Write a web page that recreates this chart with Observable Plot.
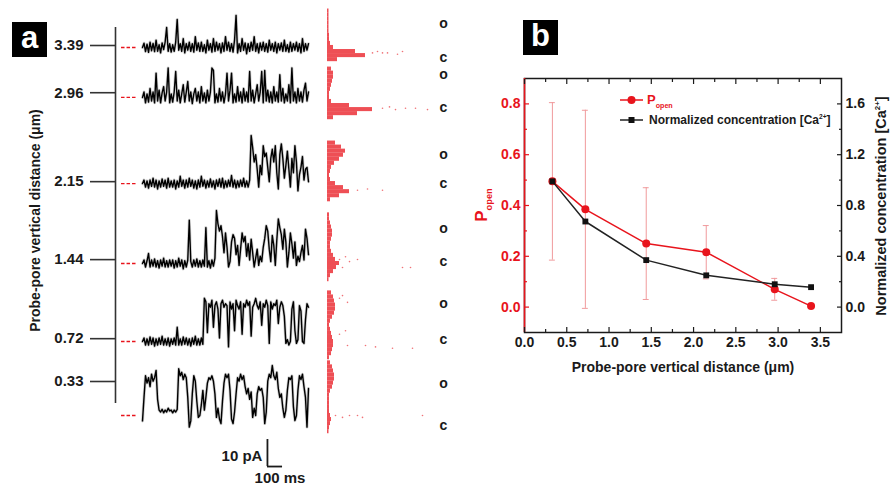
<!DOCTYPE html>
<html>
<head>
<meta charset="utf-8">
<script src="https://cdn.jsdelivr.net/npm/d3@7"></script>
<script src="https://cdn.jsdelivr.net/npm/@observablehq/plot@0.6"></script>
<style>
  html, body { margin: 0; padding: 0; background: #fff; }
  #fig { position: relative; width: 890px; height: 490px; overflow: hidden; background: #fff;
         font-family: "Liberation Sans", Arial, Helvetica, sans-serif; font-weight: bold; color: #1a1a1a; }
  .panel-tag { position: absolute; width: 35px; height: 35px; background: #000; color: #fff;
               font-size: 31px; line-height: 31px; text-align: center; }
  .rot { position: absolute; white-space: nowrap; transform: translate(-50%, -50%) rotate(-90deg); }
  .leg { position: absolute; white-space: nowrap; line-height: 1; }
  sub, sup { font-size: 55%; }
</style>
</head>
<body>
<div id="fig"></div>
<script>
// ================= DATA : panel a =================
const distanceTicksA = [3.39, 2.96, 2.15, 1.44, 0.72, 0.33];
const axisTitleA = "Probe-pore vertical distance (μm)";
const sampleMs = 10; // one value every 10 ms
// single-channel current traces (pA, relative to closed level)
const trace339 = [0,1.6,-1.5,1.2,-1.8,2,-1.2,1.5,-1.5,2.7, -1.4,1,-2,1.7,-0.8,2,7.4,-1.4,1.4,-1.7, 1,-1.4,2,10.4,-1,1.4,-1.4,3.3,-2,1.4, -1,2,-1.4,1.4,-1.7,4,-1,1.7,-1.4,2, -1.4,1,-2,2.7,-1,1.4,-1.7,3.3,-1.4,2, -1,1.4,-2,1.7,-1.4,4,-1,2,-1.4,1.4, -1.7,2.7,11.9,-2,1.4,-1.4,3.3,-1,1.7,-2.3, 1.4,-1.4,2,-1,4,-1.4,1.4,-2,1.7,-1, 2,-1.4,1.4,-1.7,2.7,-1,1.4,-1.4,2,-2, 1.4,-1,1.7,-1.4,2.7,-1.4,1,-1.7,2,-1.4, 1.4,-1,2,-1.4,1.4,-2,3.3,-1.4,1.4,-1,1.4];
const trace296 = [0,2,-2,1.3,-1.7,3.3,-1.3,2,-2,9, -1.3,2.7,-2,1.7,4,-1.3,2,10.9,-2,1.3, -1.7,2,9.6,-1.3,2.7,-2,1.3,4.7,-1.7,2, 5.9,-1.3,2,-2.3,1.3,3.3,-1.3,2,-2,4, -1.3,1.7,-2,2.7,-1.3,2,10.9,10,-2,1.3, -1.7,3.3,-1.3,2,-2,1.3,9,-1.3,2.7,9, -2,1.3,-1.7,4,-1.3,2,-2,3.3,-1.3,2, -1.7,9.6,-1.3,2.7,-2,1.3,4.7,-1.3,2,9.6, -2,10,-1.3,2.7,-1.7,2,-2,4,-1.3,2, -1.7,8.4,-1.3,3.3,-2,1.3,-1.3,4.7,-2,10.9, -1.3,2,-2,3.3,-1.3,2,-1.7,2.7,5.3,-1.3,2];
const trace215 = [0,1.3,-1.3,1,-1.7,1.3,-1,2,-1.3,1.3, -2,1,-1.3,1.7,-1,1.3,-1.7,2,-1.3,1, -1.3,1.3,-2,1,-1.3,2.7,-1,1.3,-1.7,1.3, -1.3,2,-1,1.3,-1.7,1,-2,1.3,-1.3,2.7, -1,1.3,-1.7,1,-1.3,1.7,-1.3,1,-2,1.3, -1,1.7,-1.3,2,-1.7,1,-1.3,1.3,-1,3, -1.3,1.3,-1.7,1,-1.3,1.3,-1,2,-1.3,1, -1.3,1.3,17.8,13.3,8,10.7,5.3,-1.3,6.7,3.3, 14,10,11.3,6,0.7,9.3,12.7,8,14,4, -2,10.7,14.7,9.3,2,6.7,12,5.3,-1.3,9.3, 4,14,8,-2.7,3.3,6,10,1.3,5.3,6,0.7];
const trace144 = [0,1.3,-1.3,1,3.7,-1.3,1.3,-1,1.7,-1.3, 1,-1.7,1.3,-1,2,-1.3,1,-1.3,1.3,-1, 1.3,-1.7,1,-1.3,2,-1,1.3,-2,1,-1.3, 1.3,16,0.7,-1.3,1.3,-1,1.7,-1.3,1,-1.3, 1.3,-1,13.3,-1.3,1,-1.7,1.3,-1,2,19.6, 14.7,12,14,10,4,11.3,6,-1.3,0.7,8, 10.7,9.3,3.3,6.7,-0.7,5.3,11.3,8,10,2.7, 7.3,1.3,9,4,-1.3,2,5.3,-0.7,2.7,0.7, 6,9.3,14,12,5.3,0.7,10.4,6.7,-0.7,8.7, 16.5,13.3,10.7,5.3,12.7,8,-1.3,4,11.3,7.3, 2,8,-0.7,2.7,0.7,4,6.7,1.3,12.7,9.3,3.3];
const trace072 = [0,1.3,-1.3,1,-1.3,1.7,-1,1.3,-1.7,1, -1.3,1.3,-1,2,-1.3,1,-1.3,1.3,-1.7,1, -1,1.3,-1.3,5.3,-1.3,1,-1.3,1.7,-1,1.3, -1.3,1,-1.7,1.3,-1,2,-1.3,1,-1.3,1.3, -1,16,14.7,3.3,14,12.7,15.3,5.3,13.3,14.7, 12,1.3,14,15.3,12.7,14,13.3,-2,14.7,12, 14,4,15.3,13.3,12,14.7,2.7,14,12.7,15.3, 13.3,14.7,2,12.7,14,16,13.3,12,14.7,6, 14,12.7,15.3,13.3,-0.7,14.7,12,14,13.3,15.3, 6.7,12.7,14.7,13.3,9.3,-0.7,0.7,-1.3,0,12, 14.7,4,-0.7,0.7,13.3,11.3,0,-0.7,8,14,12.7];
const trace033 = [-2,6.7,14.7,12,14,10.7,15.3,12.7,14,16.7, 6,2,1.3,2.3,1,2,1.3,2.7,1.7,2, 1,2,1.3,2.3,17.3,14.7,16,13.3,15.3,14, 6.7,-4.3,-2,8,14.7,12.7,5.3,-0.7,0,4, 9.3,2,6.7,12,14,13.3,14.7,12.7,8,-0.7, 2.7,-1.3,-3,5.3,12,15.3,14,15.3,9.3,-1.3, -3,1.3,8,14,12.7,15.3,13.3,14.7,10.7,8, 10,6,8.7,-0.7,2.7,0,8,10.7,9.3,10, 6.7,-3,1.3,12.7,15.3,14,18.5,14.7,13.3,16, 10,6.7,8,2.7,-0.7,2,9.3,14,13.3,14.7, 3.3,-1.9,0,9.3,14.7,13.3,15.3,10.7,6.7,-4.3,10];
const tracesA = [trace339, trace296, trace215, trace144, trace072, trace033];
// "o" / "c" level labels (pA relative to closed level)
const openLevelA = [8.9, 8.5, 10.8, 13.0, 14.1, 11.9];
const closedLevelA = [-3.7, -3.7, 0, 0.7, 0.7, -3.7];
// all-points amplitude histograms: [level pA, count]
const hist339 = [[13.5,1.5],[12,1.5],[10.5,1.5],[9,1.5],[7.5,1.5],[6,1.5],[4.5,2],[3,2],[1.5,3],[0,6],[-1.5,28],[-3,38],[-4.5,10]];
const hist296 = [[10.5,4],[9,6],[7.5,6],[6,5],[4.5,4],[3,3],[1.5,2],[0,2],[-1.5,4],[-3,22],[-4.5,45],[-6,30],[-7.5,6]];
const hist215 = [[15,8],[13.5,14],[12,18],[10.5,16],[9,12],[7.5,7],[6,4],[4.5,3],[3,2],[1.5,3],[0,8],[-1.5,16],[-3,22],[-4.5,12],[-6,3]];
const hist144 = [[18,2],[16.5,2],[15,3],[13.5,4],[12,5],[10.5,5],[9,4],[7.5,3],[6,3],[4.5,4],[3,6],[1.5,8],[0,12],[-1.5,9],[-3,6],[-4.5,3],[-6,1.5]];
const hist072 = [[18,4],[16.5,6],[15,7],[13.5,8],[12,8],[10.5,7],[9,5],[7.5,3],[6,2],[4.5,3],[3,4],[1.5,5],[0,6],[-1.5,6],[-3,5],[-4.5,4],[-6,2]];
const hist033 = [[19.5,3],[18,5],[16.5,6],[15,7],[13.5,7],[12,6],[10.5,5],[9,3],[7.5,2],[6,2],[4.5,2],[3,2],[1.5,2],[0,3],[-1.5,4],[-3,3],[-4.5,2],[-6,1.5]];
const histsA = [hist339, hist296, hist215, hist144, hist072, hist033];
// sparse outlying histogram points: [count, level pA]
const tail339 = [[45,-2],[50,-1.5],[55,-2],[60,-2],[70,-2.5],[75,-1.5]];
const tail296 = [[55,-4],[62,-3.5],[68,-4.5],[78,-4],[88,-4],[100,-4.5]];
const tail215 = [[30,-2.5],[40,-2],[55,-2.5]];
const tail144 = [[12,1.5],[15,-1.5],[18,2.5],[22,0.7],[30,1.5],[75,-1.5],[83,-1.5]];
const tail072 = [[12,16],[15,17],[20,14.5],[12,2.7],[18,4],[20,-1.5],[38,-1.5],[48,-2],[65,-2.5],[85,-2.5]];
const tail033 = [[8,0],[15,-0.7],[22,0],[30,0],[35,-0.7],[95,0]];
const tailsA = [tail339, tail296, tail215, tail144, tail072, tail033];
const scaleBar = {pA: 10, ms: 100};

// ================= DATA : panel b =================
const distanceB = [0.33, 0.72, 1.44, 2.15, 2.96, 3.39];
const pOpen     = [0.495, 0.385, 0.25, 0.216, 0.07, 0.004];
const pOpenErr  = [0.31, 0.39, 0.22, 0.105, 0.043, 0];
const concNorm  = [0.99, 0.674, 0.37, 0.25, 0.18, 0.157];
const xTicksB = [0, 0.5, 1, 1.5, 2, 2.5, 3, 3.5];
const xMinorB = [0.25, 0.75, 1.25, 1.75, 2.25, 2.75, 3.25];
const yTicksLeft = [0, 0.2, 0.4, 0.6, 0.8];
const yMinorLeft = [0.1, 0.3, 0.5, 0.7];
const yTicksRight = [0, 0.4, 0.8, 1.2, 1.6];
const yMinorRight = [0.2, 0.6, 1.0, 1.4];
const xTitleB = "Probe-pore vertical distance (μm)";

// ================= LAYOUT / STYLE =================
const W = 890, H = 490;
const red = "#e8141c", errRed = "#f09a9c", ink = "#1a1a1a";
const FONT = "'Liberation Sans', Arial, Helvetica, sans-serif";
const baseStyle = {position: "absolute", left: "0px", top: "0px", background: "transparent",
                   overflow: "visible", fontFamily: FONT};
const traceBase = [136.3, 117.8, 85.9, 56.3, 27.4, 0];      // stacking offset of each trace (pA)
const xTrace = {domain: [0, 1100], range: [142, 308], axis: null};
const yTrace = {domain: [0, 150], range: [415, 10], axis: null};
const sbOrigin = {t: 828, pA: -18.9};
const toLeft = c => c / 2;                                    // right axis -> left axis units

const fig = document.getElementById("fig");

// ---------- panel a : distance axis ----------
fig.append(Plot.plot({
  width: W, height: H, style: baseStyle,
  marginLeft: 115, marginRight: W - 450, marginTop: 0, marginBottom: 50,
  x: {domain: [0, 1], range: [115, 450], axis: null},
  y: {domain: [0.33, 3.39], range: [381, 45], axis: null},
  marks: [
    Plot.ruleX([0], {y1: 0.13, y2: 3.555, stroke: "#333", strokeWidth: 1.6}),
    Plot.axisY(distanceTicksA, {anchor: "left", tickSize: 25, tickPadding: 7, stroke: "#333", strokeWidth: 1.6,
      fill: ink, fontSize: 15, fontWeight: "bold", tickFormat: d => d.toFixed(2), label: null}),
    Plot.text([axisTitleA], {frameAnchor: "left", textAnchor: "middle", lineAnchor: "middle", rotate: -90, dx: -80,
      fontSize: 14, fontWeight: "bold", fill: ink})
  ]
}));

// ---------- panel a : traces ----------
const traceRows = tracesA.flatMap((vals, k) => vals.map((v, i) => ({trace: k, t: i * sampleMs, y: traceBase[k] + v})));
fig.append(Plot.plot({
  width: W, height: H, style: baseStyle,
  x: xTrace, y: yTrace,
  marks: [
    Plot.ruleY(traceBase, {x1: -139, x2: -33, stroke: red, strokeWidth: 1.3, strokeDasharray: "3.5,2"}),
    Plot.line(traceRows, {x: "t", y: "y", z: "trace", stroke: "#000", strokeWidth: 3, strokeOpacity: 0.18}),
    Plot.line(traceRows, {x: "t", y: "y", z: "trace", stroke: "#000", strokeWidth: 1.4}),
    Plot.ruleX([scaleBar], {x: () => sbOrigin.t, y1: () => sbOrigin.pA, y2: d => sbOrigin.pA + d.pA, stroke: ink, strokeWidth: 1.8}),
    Plot.ruleY([scaleBar], {y: () => sbOrigin.pA, x1: () => sbOrigin.t, x2: d => sbOrigin.t + d.ms, stroke: ink, strokeWidth: 1.8}),
    Plot.text([scaleBar], {x: () => sbOrigin.t, y: () => sbOrigin.pA, text: d => `${d.pA} pA`, textAnchor: "end",
      dx: -5, dy: -10, fontSize: 15, fontWeight: "bold", fill: ink}),
    Plot.text([scaleBar], {x: d => sbOrigin.t + d.ms / 2, y: () => sbOrigin.pA, text: d => `${d.ms} ms`,
      dx: 5, dy: 12, fontSize: 15, fontWeight: "bold", fill: ink})
  ]
}));

// ---------- panel a : histograms + o/c labels ----------
const histRows = histsA.flatMap((h, k) => h.map(([lv, c]) => ({y: traceBase[k] + lv, count: c})));
const tailRows = tailsA.flatMap((h, k) => h.map(([c, lv]) => ({y: traceBase[k] + lv, count: c})));
const ocRows = tracesA.flatMap((_, k) => [
  {label: "o", y: traceBase[k] + openLevelA[k]},
  {label: "c", y: traceBase[k] + closedLevelA[k]}
]);
fig.append(Plot.plot({
  width: W, height: H, style: baseStyle,
  marginLeft: 327, marginRight: W - 443,
  x: {domain: [0, 100], range: [327, 427], axis: null},
  y: yTrace,
  marks: [
    Plot.rect(histRows, {x1: 0, x2: "count", y1: d => d.y - 0.75, y2: d => d.y + 0.75, fill: red, fillOpacity: 0.75}),
    Plot.dot(tailRows, {x: "count", y: "y", r: 0.8, fill: red, fillOpacity: 0.6}),
    Plot.text(ocRows, {frameAnchor: "right", y: "y", text: "label", textAnchor: "middle", fontSize: 14, fontWeight: "bold", fill: ink})
  ]
}));

// ---------- panel b ----------
const rowsB = distanceB.map((d, i) => ({d, p: pOpen[i], e: pOpenErr[i], c: concNorm[i]}));
const errRows = rowsB.filter(r => r.e > 0);
const capHalf = 0.035;
const tickStyleX = {fill: "none", label: null, strokeWidth: 1.2, stroke: ink};
fig.append(Plot.plot({
  width: W, height: H, style: baseStyle,
  marginLeft: 524, marginRight: W - 841, marginTop: 78, marginBottom: H - 332,
  x: {domain: [0, 3.75], range: [524, 841], axis: null},
  y: {domain: [-0.1, 0.9], range: [332, 78], axis: null},
  marks: [
    Plot.frame({stroke: ink, strokeWidth: 1.5}),
    Plot.ruleX([0], {stroke: red, strokeWidth: 1.6}),
    // ticks (inward)
    Plot.axisX(xTicksB, {anchor: "bottom", tickSize: 5, dy: -5, ...tickStyleX}),
    Plot.axisX(xMinorB, {anchor: "bottom", tickSize: 3, dy: -3, ...tickStyleX}),
    Plot.axisX(xTicksB, {anchor: "top", tickSize: 5, dy: 5, ...tickStyleX}),
    Plot.axisX(xMinorB, {anchor: "top", tickSize: 3, dy: 3, ...tickStyleX}),
    Plot.axisY(yTicksLeft, {anchor: "left", tickSize: 5, dx: 5, fill: "none", label: null, stroke: red, strokeWidth: 1.2}),
    Plot.axisY(yMinorLeft, {anchor: "left", tickSize: 3, dx: 3, fill: "none", label: null, stroke: red, strokeWidth: 1.2}),
    Plot.axisY(yTicksRight, {anchor: "right", y: toLeft, tickSize: 5, dx: -5, fill: "none", label: null, stroke: ink, strokeWidth: 1.2}),
    Plot.axisY(yMinorRight, {anchor: "right", y: toLeft, tickSize: 3, dx: -3, fill: "none", label: null, stroke: ink, strokeWidth: 1.2}),
    // tick labels
    Plot.axisX(xTicksB, {anchor: "bottom", tickSize: 0, tickPadding: 5, label: null, fill: ink,
      fontSize: 14, fontWeight: "bold", tickFormat: d => d.toFixed(1)}),
    Plot.axisY(yTicksLeft, {anchor: "left", tickSize: 0, tickPadding: 4, label: null, fill: red,
      fontSize: 14, fontWeight: "bold", tickFormat: d => d.toFixed(1)}),
    Plot.axisY(yTicksRight, {anchor: "right", y: toLeft, tickSize: 0, tickPadding: 4, label: null, fill: ink,
      fontSize: 14, fontWeight: "bold", tickFormat: d => d.toFixed(1)}),
    Plot.text([xTitleB], {frameAnchor: "bottom", lineAnchor: "middle", dy: 35, fontSize: 14, fontWeight: "bold", fill: ink}),
    // error bars
    Plot.ruleX(errRows, {x: "d", y1: r => r.p - r.e, y2: r => r.p + r.e, stroke: errRed, strokeWidth: 1}),
    Plot.ruleY(errRows, {y: r => r.p + r.e, x1: r => r.d - capHalf, x2: r => r.d + capHalf, stroke: errRed, strokeWidth: 1}),
    Plot.ruleY(errRows, {y: r => r.p - r.e, x1: r => r.d - capHalf, x2: r => r.d + capHalf, stroke: errRed, strokeWidth: 1}),
    // series
    Plot.line(rowsB, {x: "d", y: "p", stroke: red, strokeWidth: 1.5}),
    Plot.dot(rowsB, {x: "d", y: "p", r: 4, fill: red}),
    Plot.line(rowsB, {x: "d", y: r => toLeft(r.c), stroke: "#222", strokeWidth: 1.5}),
    Plot.dot(rowsB, {x: "d", y: r => toLeft(r.c), symbol: "square", r: 3.3, fill: "#111"})
  ]
}));

// ---------- rich-text labels, legend, panel tags ----------
fig.insertAdjacentHTML("beforeend", `
  <div class="panel-tag" style="left:12px;top:22px;">a</div>
  <div class="panel-tag" style="left:523px;top:20px;">b</div>
  <div class="rot" style="left:483px;top:205px;color:${red};font-size:17px;">P<sub>open</sub></div>
  <div class="rot" style="left:881px;top:206px;font-size:14.5px;">Normalized concentration [Ca<sup>2+</sup>]</div>
  <svg style="position:absolute;left:0;top:0;overflow:visible" width="890" height="490">
    <line x1="620" x2="643" y1="100" y2="100" stroke="${red}" stroke-width="1.5"/>
    <circle cx="631.5" cy="100" r="4" fill="${red}"/>
    <line x1="620" x2="643" y1="120" y2="120" stroke="#222" stroke-width="1.5"/>
    <rect x="628.5" y="117" width="6" height="6" fill="#111"/>
  </svg>
  <div class="leg" style="left:647px;top:93px;color:${red};font-size:13px;">P<sub>open</sub></div>
  <div class="leg" style="left:649px;top:114px;font-size:12px;">Normalized concentration [Ca<sup>2+</sup>]</div>
`);
</script>
</body>
</html>
